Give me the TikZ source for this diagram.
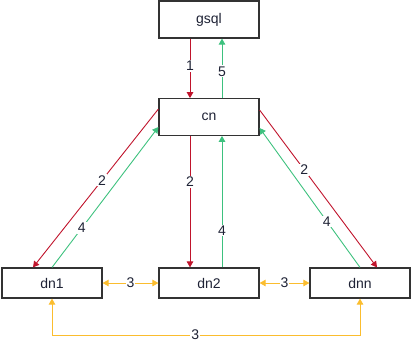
\documentclass[tikz,border=0pt]{standalone}
\usepackage{fontspec}
\setmainfont{Liberation Sans}
\usetikzlibrary{arrows.meta,calc}
\definecolor{redc}{HTML}{C0142C}
\definecolor{greenc}{HTML}{3DC17E}
\definecolor{yelc}{HTML}{FBBD2E}
\definecolor{boxc}{HTML}{333333}
\definecolor{txtc}{HTML}{1E2235}
\begin{document}
\begin{tikzpicture}[x=1pt,y=-1pt,
  box/.style={draw=boxc,line width=1.2pt,fill=white,minimum width=100pt,inner sep=0pt,font=\fontsize{14}{16}\selectfont,text=txtc},
  conn/.style={line width=0.9pt,-{Triangle[length=6pt,width=6.5pt]}},
  dconn/.style={line width=0.9pt,{Triangle[length=6pt,width=6.5pt]}-{Triangle[length=6pt,width=6.5pt]}},
  rd/.style={conn,draw=redc},
  gr/.style={conn,draw=greenc},
  yl/.style={dconn,draw=yelc},
  lbl/.style={fill=white,inner sep=1pt,text=txtc,font=\fontsize{14}{16}\selectfont}]
\useasboundingbox (0,0) rectangle (411,349);
\node[box,minimum height=37pt] (gsql) at (209,19.5) {gsql};
\node[box,minimum height=36.5pt] (cn) at (209,117) {cn};
\node[box,minimum height=30pt] (dn1) at (52,283) {dn1};
\node[box,minimum height=30pt] (dn2) at (209,283) {dn2};
\node[box,minimum height=30pt] (dnn) at (360,283) {dnn};
% gsql <-> cn
\draw[rd] ([xshift=-19pt]gsql.south) -- node[lbl,pos=0.46]{1} ([xshift=-19pt]cn.north);
\draw[gr] ([xshift=13pt]cn.north) -- node[lbl,pos=0.45]{5} ([xshift=13pt]gsql.south);
% cn <-> dn2
\draw[rd] ([xshift=-19pt]cn.south) -- node[lbl,pos=0.35]{2} ([xshift=-19pt]dn2.north);
\draw[gr] ([xshift=13pt]dn2.north) -- node[lbl,pos=0.28]{4} ([xshift=13pt]cn.south);
% cn <-> dn1
\draw[rd] ([yshift=8pt]cn.west) -- node[lbl,pos=0.45]{2} ([xshift=-19pt]dn1.north);
\draw[gr] (dn1.north) -- node[lbl,pos=0.28]{4} ([yshift=-10pt]cn.west);
% cn <-> dnn
\draw[rd] ([yshift=7pt]cn.east) -- node[lbl,pos=0.38]{2} ([xshift=17pt]dnn.north);
\draw[gr] (dnn.north) -- node[lbl,pos=0.33]{4} ([yshift=-11pt]cn.east);
% dn links
\draw[yl] (dn1.east) -- node[lbl]{3} (dn2.west);
\draw[yl] (dn2.east) -- node[lbl]{3} (dnn.west);
\coordinate (bl) at (52,335);
\coordinate (br) at (360,335);
\draw[yl] (dn1.south) -- (bl) -- node[lbl,pos=0.465]{3} (br) -- (dnn.south);
\end{tikzpicture}
\end{document}
